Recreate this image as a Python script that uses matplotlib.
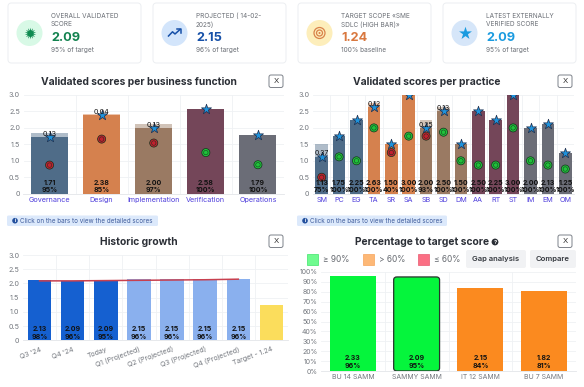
import matplotlib
matplotlib.use("Agg")
import matplotlib.pyplot as plt
from matplotlib.patches import FancyBboxPatch, Circle, Rectangle

plt.rcParams['font.family'] = ['Inter', 'DejaVu Sans']

W, H = 584, 387

# ---- data ----
kpi_titles = [["OVERALL VALIDATED", "SCORE"], ["PROJECTED ( 14-02-", "2025)"],
              ["TARGET SCOPE «SME", "SDLC (HIGH BAR)»"], ["LATEST EXTERNALLY", "VERIFIED SCORE"]]
kpi_values = ["2.09", "2.15", "1.24", "2.09"]
kpi_subs = ["95% of target", "96% of target", "100% baseline", "95% of target"]

func_names = ["Governance", "Design", "Implementation", "Verification", "Operations"]
func_scores = [1.71, 2.38, 2.00, 2.58, 1.79]
func_gaps = [0.13, 0.04, 0.13, 0.00, 0.00]
func_pcts = ["95%", "85%", "97%", "100%", "100%"]
func_circles = [0.87, 1.66, 1.54, 1.25, 0.88]
func_circle_ok = [False, False, False, True, True]

prac_names = ["SM", "PC", "EG", "TA", "SR", "SA", "SB", "SD", "DM", "AA", "RT", "ST", "IM", "EM", "OM"]
prac_scores = [1.13, 1.75, 2.25, 2.63, 1.50, 3.00, 2.00, 2.50, 1.50, 2.50, 2.25, 3.00, 2.00, 2.13, 1.25]
prac_gaps = [0.37, 0, 0, 0.12, 0, 0, 0.25, 0.13, 0, 0, 0, 0, 0, 0, 0]
prac_pcts = ["75%", "100%", "100%", "100%", "40%", "100%", "93%", "100%",
             "100%", "100%", "100%", "100%", "100%", "100%", "100%"]
prac_circles = [0.50, 1.12, 1.00, 2.00, 1.25, 1.75, 1.75, 1.87, 1.00, 0.87, 0.87, 2.00, 1.00, 0.87, 0.75]
prac_circle_ok = [False, True, True, True, False, True, False, True, True, True, True, True, True, True, True]
prac_groups = [0, 0, 0, 1, 1, 1, 2, 2, 2, 3, 3, 3, 4, 4, 4]

hist_names = ["Q3 '24", "Q4 '24", "Today", "Q1 (Projected)", "Q2 (Projected)",
              "Q3 (Projected)", "Q4 (Projected)", "Target - 1.24"]
hist_values = [2.13, 2.09, 2.09, 2.15, 2.15, 2.15, 2.15, 1.24]
hist_pcts = ["98%", "96%", "95%", "96%", "96%", "96%", "96%", ""]
hist_line = [2.09, 2.09, 2.10, 2.11, 2.12, 2.13, 2.15]

pct_names = ["BU 14 SAMM", "SAMMY SAMM", "IT 12 SAMM", "BU 7 SAMM"]
pct_values = [96, 95, 84, 81]
pct_scores = ["2.33", "2.09", "2.15", "1.82"]
pct_labels = ["96%", "95%", "84%", "81%"]

group_colors = ["#4f6c88", "#d5814e", "#9a7a63", "#744659", "#6b6d77"]
C_GRID = "#eff1f4"
C_TICK = "#74787f"
C_LINK = "#4f3fdc"

fig = plt.figure(figsize=(W / 100, H / 100), dpi=100, facecolor="white")
bg = fig.add_axes([0, 0, 1, 1], zorder=0)
bg.set_xlim(0, W)
bg.set_ylim(H, 0)
bg.axis("off")


def axes_px(x0, x1, ytop, ybot):
    ax = fig.add_axes([x0 / W, 1 - ybot / H, (x1 - x0) / W, (ybot - ytop) / H], zorder=2)
    ax.set_facecolor("none")
    for s in ax.spines.values():
        s.set_visible(False)
    ax.spines["bottom"].set_visible(True)
    ax.spines["bottom"].set_color("#e3e5e9")
    ax.spines["bottom"].set_linewidth(0.6)
    ax.tick_params(length=0, labelsize=5.2, labelcolor=C_TICK, pad=2.5)
    ax.set_axisbelow(True)
    ax.grid(axis="y", color=C_GRID, lw=0.6)
    return ax


def round_box(x0, y0, x1, y1, r, fc, ec, lw=0.6, z=1):
    bg.add_patch(FancyBboxPatch((x0, y0), x1 - x0, y1 - y0, boxstyle=f"round,pad=0,rounding_size={r}",
                                fc=fc, ec=ec, lw=lw, zorder=z))


def close_button(x0, y0):
    round_box(x0, y0, x0 + 14, y0 + 12.5, 2, "white", "#7d828a", 0.7, 3)
    bg.text(x0 + 7, y0 + 6.2, "X", ha="center", va="center", fontsize=5.5, color="#333333", zorder=4)


def info_pill(x0, x1, y0):
    round_box(x0, y0, x1, y0 + 10.5, 1.5, "#dce9fb", "none", 0, 1)
    bg.add_patch(Circle((x0 + 8, y0 + 5.2), 2.8, fc="#23509e", ec="none", zorder=2))
    bg.text(x0 + 8, y0 + 5.2, "i", color="white", fontsize=3.6, ha="center", va="center", weight="bold", zorder=3)
    bg.text(x0 + 13, y0 + 5.3, "Click on the bars to view the detailed scores", fontsize=4.55,
            color="#3f5c9c", va="center", zorder=3)


def boundaries(ax, n):
    for i in range(n - 1):
        ax.axvline(i + 0.5, color=C_GRID, lw=0.6, zorder=0)


# ---- KPI cards ----
card_x = [8, 153, 298, 443]
icon_bg = ["#d8f9e6", "#d3e5fb", "#fdeebb", "#d6e6f9"]
value_colors = ["#12824f", "#1650a8", "#d9783f", "#1a9be0"]
for i, cx in enumerate(card_x):
    round_box(cx, 3, cx + 133, 63, 3.5, "white", "#eceef1", 0.7)
    ix, iy = cx + 21.5, 33
    bg.add_patch(Circle((ix, iy), 13, fc=icon_bg[i], ec="none", zorder=2))
    if i == 0:
        bg.scatter([ix], [iy], s=70, marker=(14, 1, 0), color="#0e8a50", lw=0, zorder=3)
    elif i == 1:
        bg.plot([ix - 6, ix - 2, ix + 0.5, ix + 5.5], [iy + 3, iy - 1.2, iy + 1, iy - 3.5],
                color="#1650a8", lw=1.1, zorder=3)
        bg.plot([ix + 2.5, ix + 6, ix + 6], [iy - 4, iy - 4, iy - 0.5], color="#1650a8", lw=1.1, zorder=3)
    elif i == 2:
        for r, lw in ((5.5, 0.9), (3, 0.9)):
            bg.add_patch(Circle((ix, iy), r, fc="none", ec="#d9824a", lw=lw, zorder=3))
        bg.add_patch(Circle((ix, iy), 1, fc="#d9824a", ec="none", zorder=3))
    else:
        bg.scatter([ix], [iy], s=95, marker="*", color="#1a9be0", lw=0, zorder=3)
    tx = cx + 43
    bg.text(tx, 16, kpi_titles[i][0], fontsize=4.65, color="#6a6e75", va="center", zorder=3)
    bg.text(tx, 24.5, kpi_titles[i][1], fontsize=4.65, color="#6a6e75", va="center", zorder=3)
    bg.text(tx, 38, kpi_values[i], fontsize=9.2, weight="bold", color=value_colors[i], va="center", zorder=3)
    bg.text(tx, 50, kpi_subs[i], fontsize=4.7, color="#6a6e75", va="center", zorder=3)

# ---- titles and buttons ----
titles = [("Validated scores per business function", 138.5, 82), ("Validated scores per practice", 427, 82),
          ("Historic growth", 138.5, 242), ("Percentage to target score", 422, 242)]
for t, x, y in titles:
    bg.text(x, y, t, fontsize=7.4, weight="bold", color="#2b2f36", ha="center", va="center", zorder=3)
bg.add_patch(Circle((495, 242), 3.4, fc="#2b2f36", ec="none", zorder=3))
bg.text(495, 242, "?", fontsize=4.2, color="white", weight="bold", ha="center", va="center", zorder=4)
for x, y in [(269, 75), (558, 75), (269, 235), (558, 235)]:
    close_button(x, y)
info_pill(7, 158, 215.5)
info_pill(297, 447, 215.5)


def score_panel(ax, names, scores, gaps, pcts, circ, ok, colors, width, marker_s, circ_s, gap_fs):
    xs = list(range(len(names)))
    ax.bar(xs, [s + g for s, g in zip(scores, gaps)], width=width, color=colors, alpha=0.45, zorder=2, lw=0)
    ax.bar(xs, scores, width=width, color=colors, zorder=3, lw=0)
    ax.set_xlim(-0.5, len(names) - 0.5)
    ax.set_ylim(0, 3)
    ax.set_yticks([0, 0.5, 1, 1.5, 2, 2.5, 3], ["0", "0.5", "1.0", "1.5", "2.0", "2.5", "3.0"])
    ax.set_xticks(xs, names, color=C_LINK)
    boundaries(ax, len(names))
    fc = ["#1fc23a" if k else "#c1202e" for k in ok]
    ax.scatter(xs, circ, s=circ_s, c=fc, edgecolors="#15301c", linewidths=0.5, zorder=5)
    ax.scatter(xs, circ, s=circ_s * 0.3, facecolors="none", edgecolors="#15301c", linewidths=0.35, zorder=6)
    ax.scatter(xs, scores, s=marker_s, marker="*", c="#1f93dc", edgecolors="#1b2b4a", linewidths=0.5, zorder=7)
    for x, s, g, p in zip(xs, scores, gaps, pcts):
        ax.text(x, 0.33, f"{s:.2f}", ha="center", va="center", fontsize=5.0, weight="bold", color="#111", zorder=8)
        ax.text(x, 0.11, p, ha="center", va="center", fontsize=5.0, weight="bold", color="#111", zorder=8)
        if g > 0:
            ax.text(x, s + 0.1, f"{g:.2f}", ha="center", va="center", fontsize=gap_fs, color="#111", zorder=8)


# ---- panel 1 ----
ax1 = axes_px(23.5, 284, 95, 193.7)
score_panel(ax1, func_names, func_scores, func_gaps, func_pcts, func_circles, func_circle_ok,
            group_colors, 0.71, 58, 34, 5.2)

# ---- panel 2 ----
ax2 = axes_px(313, 574, 95, 193.7)
score_panel(ax2, prac_names, prac_scores, prac_gaps, prac_pcts, prac_circles, prac_circle_ok,
            [group_colors[g] for g in prac_groups], 0.73, 58, 34, 5.0)

# ---- panel 3 ----
ax3 = axes_px(23, 288, 255, 340.3)
hist_colors = ["#1560d0"] * 3 + ["#8ab0ee"] * 4 + ["#fbdd5c"]
xs3 = list(range(len(hist_names)))
ax3.bar(xs3, hist_values, width=0.71, color=hist_colors, lw=0, zorder=2)
ax3.plot(xs3[:len(hist_line)], hist_line, color="#c8404f", lw=1.1, zorder=4)
ax3.set_xlim(-0.5, len(hist_names) - 0.5)
ax3.set_ylim(0, 3)
ax3.set_yticks([0, 0.5, 1, 1.5, 2, 2.5, 3], ["0", "0.5", "1.0", "1.5", "2.0", "2.5", "3.0"])
ax3.set_xticks(xs3, hist_names, rotation=20, ha="right", rotation_mode="anchor", fontsize=5.0)
ax3.tick_params(axis="x", pad=4)
boundaries(ax3, len(hist_names))
for x, v, p in zip(xs3, hist_values, hist_pcts):
    if p:
        ax3.text(x, 0.39, f"{v:.2f}", ha="center", va="center", fontsize=5.0, weight="bold", color="#111", zorder=5)
        ax3.text(x, 0.12, p, ha="center", va="center", fontsize=5.0, weight="bold", color="#111", zorder=5)

# ---- panel 4 ----
ax4 = axes_px(321, 576, 272, 371)
xs4 = list(range(len(pct_names)))
pct_colors = ["#05f53c" if v >= 90 else "#fb8a1f" for v in pct_values]
bars4 = ax4.bar(xs4, pct_values, width=0.72, color=pct_colors, lw=0, zorder=2)
ax4.set_xlim(-0.5, len(pct_names) - 0.5)
ax4.set_ylim(0, 100)
ax4.set_yticks(range(0, 101, 10), [f"{v}%" for v in range(0, 101, 10)], fontsize=5.0)
ax4.set_xticks(xs4, pct_names, fontsize=5.0)
boundaries(ax4, len(pct_names))
sel = bars4[1]
sel.set_visible(False)
ax4.add_patch(FancyBboxPatch((sel.get_x(), 0), sel.get_width(), sel.get_height(),
                             boxstyle="round,pad=0,rounding_size=0.05", mutation_aspect=60,
                             fc=pct_colors[1], ec="#27332b", lw=0.9, zorder=3))
for x, s, p in zip(xs4, pct_scores, pct_labels):
    ax4.text(x, 12.8, s, ha="center", va="center", fontsize=5.0, weight="bold", color="#111", zorder=5)
    ax4.text(x, 5, p, ha="center", va="center", fontsize=5.0, weight="bold", color="#111", zorder=5)

# ---- panel 4 legend and buttons ----
legend_items = [(307, "#6ffb8f", "#3fe56b", "≥ 90%"), (363, "#fdb877", "#f7a45a", "> 60%"),
                (418, "#fb6f84", "#e85a70", "≤ 60%")]
for x, fc, ec, label in legend_items:
    bg.add_patch(Rectangle((x, 254), 10.5, 10.5, fc=fc, ec=ec, lw=0.5, zorder=2))
    bg.text(x + 16, 259, label, fontsize=6.0, color="#666a70", va="center", zorder=3)
for x0, x1, label in [(466, 526, "Gap analysis"), (530, 576, "Compare")]:
    round_box(x0, 250, x1, 268, 2, "#f1f2f4", "none", 0, 1)
    bg.text((x0 + x1) / 2, 258.5, label, fontsize=5.5, weight="semibold", color="#33373d",
            ha="center", va="center", zorder=3)

fig.savefig("out.png", dpi=100, facecolor="white")
